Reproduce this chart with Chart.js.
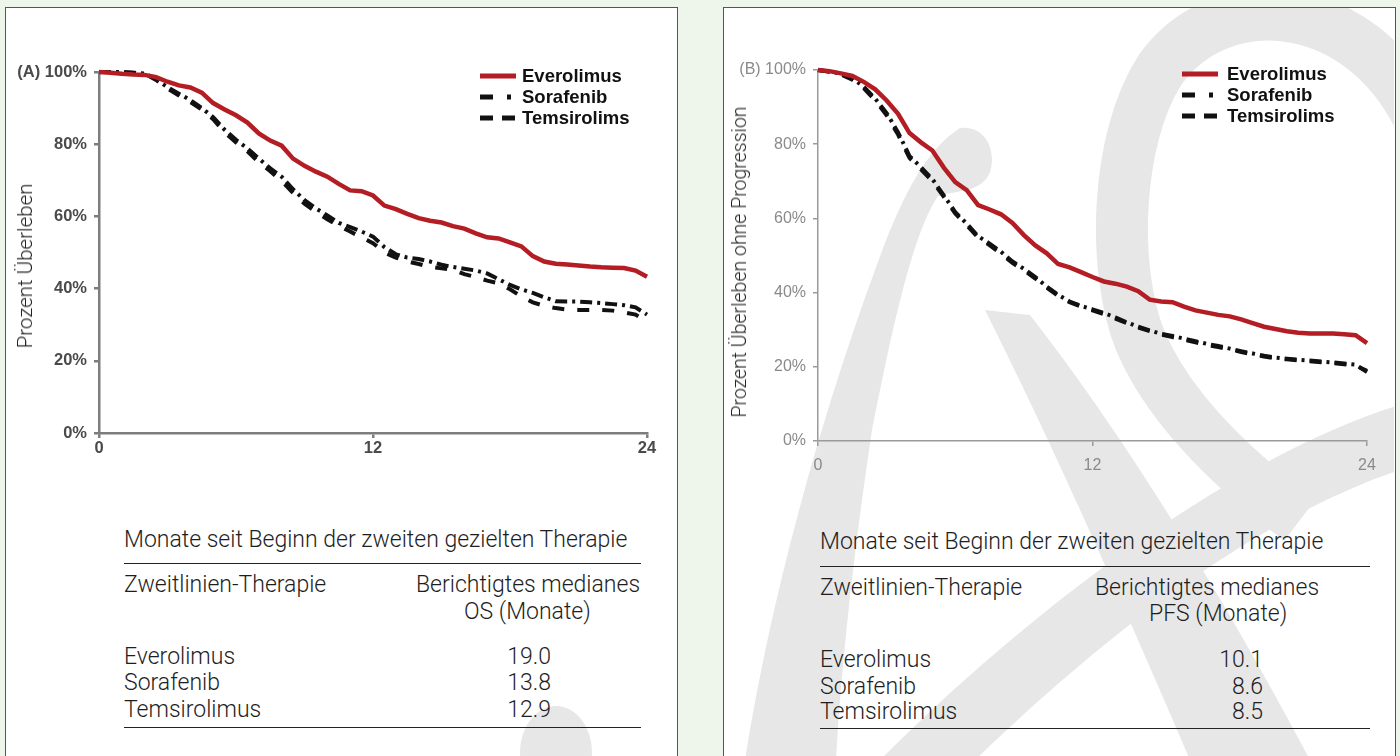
<!DOCTYPE html>
<html>
<head>
<meta charset="utf-8">
<script src="https://cdn.jsdelivr.net/npm/chart.js@4.4.1/dist/chart.umd.min.js"></script>
<style>
  body { margin: 0; width: 1400px; height: 756px; overflow: hidden; background: #eef5eb; position: relative; font-family: Roboto, "Liberation Sans", sans-serif; }
  .box { position: absolute; top: 7px; width: 673px; height: 800px; background: #fff; border: 1.5px solid #555; box-sizing: border-box; }
  #boxA { left: 5px; }
  #boxB { left: 723px; }
  #mark { position: absolute; left: 0; top: 0; }
  canvas { position: absolute; top: 0; }
  .t { position: absolute; white-space: nowrap; font-size: 23px; font-weight: 300; color: #1e1e1e; line-height: 28px; }
  .rule { position: absolute; height: 0; border-top: 1.5px solid #222; }
  .lg { position: absolute; font: bold 18.5px "Liberation Sans", Arial, sans-serif; color: #111; line-height: 20px; white-space: nowrap; }
  .ytitle { position: absolute; white-space: nowrap; font-weight: 300; color: #222; line-height: 24px; transform: translate(-50%, -50%) rotate(-90deg); }
</style>
</head>
<body>
<div class="box" id="boxA"></div>
<div class="box" id="boxB"></div>
<!-- light grey watermark behind the charts -->
<svg id="mark" width="1400" height="756">
  <defs>
    <clipPath id="boxes">
      <rect x="6" y="8" width="670" height="760"/>
      <rect x="724" y="8" width="670" height="760"/>
    </clipPath>
  </defs>
  <g clip-path="url(#boxes)" fill="#e7e7e7">
    <ellipse cx="556" cy="752" rx="36" ry="46"/>
    <path d="M745 760 C770 600 820 420 875 270 C900 200 925 150 960 128 C985 125 997 150 990 172 C982 192 960 190 938 196 C912 235 892 330 872 430 C857 530 842 650 836 760 Z"/>
    <path d="M985 310 L1030 315 C1120 430 1220 590 1310 760 L1190 760 C1130 620 1060 460 985 310 Z"/>
    <path d="M880 760 L975 760 C1100 640 1250 520 1400 470 L1400 405 C1250 450 1050 590 880 760 Z"/>
    <path d="M1420 120 C1360 -5 1220 -15 1160 70 C1115 140 1112 270 1140 340 C1165 400 1220 460 1300 520" fill="none" stroke="#e7e7e7" stroke-width="52"/>
  </g>
</svg>
<canvas id="chartA" width="700" height="480" style="left:0"></canvas>
<canvas id="chartB" width="700" height="480" style="left:700px"></canvas>
<div id="extras"></div>

<script>
// months since start of second targeted therapy
const months = [0, 0.5, 1, 1.5, 2, 2.5, 3, 3.5, 4, 4.5, 5, 5.5, 6, 6.5, 7, 7.5, 8, 8.5, 9, 9.5, 10, 10.5, 11, 11.5, 12,
                12.5, 13, 13.5, 14, 14.5, 15, 15.5, 16, 16.5, 17, 17.5, 18, 18.5, 19, 19.5, 20, 20.5, 21, 21.5, 22, 22.5, 23, 23.5, 24];

// (A) overall survival, percent
const osEverolimus = [100, 99.8, 99.5, 99.3, 99.2, 98.6, 97.3, 96.3, 95.7, 94.3, 91.4, 89.6, 88, 86, 83, 81, 79.6, 76, 74, 72.4, 71, 69, 67.2, 67, 65.8,
                      63, 62, 60.7, 59.5, 58.8, 58.3, 57.3, 56.6, 55.3, 54.2, 53.9, 52.8, 51.7, 49, 47.5, 46.9, 46.7, 46.4, 46.1, 45.9, 45.8, 45.7, 45, 43.3];
const osSorafenib = [100, 100, 100, 99.8, 99.6, 98, 95.8, 94, 92.2, 90, 87.5, 84, 81.2, 78.8, 76, 73.3, 71, 67.5, 64.5, 62.2, 60.3, 58.2, 57, 55.8, 54.4,
                     51.5, 49.5, 48.6, 48.2, 47.5, 46.6, 46, 45.5, 45, 44.2, 42.6, 41, 39.8, 38.8, 37.6, 36.5, 36.4, 36.4, 36.2, 36, 35.7, 35.4, 34.8, 32.8];
const osTemsirolimus = [100, 100, 100, 99.8, 99.5, 97.8, 95.4, 93.5, 91.7, 89.6, 86.9, 83.3, 80.5, 78, 75, 72.5, 69.8, 66.5, 63.5, 61.3, 59.2, 57.4, 55.8, 54.2, 52.6,
                        50, 48.6, 47.5, 46.8, 46, 45.6, 45.2, 44, 43.2, 42.2, 41.5, 39.8, 37.8, 36.2, 35.2, 34.6, 34.2, 34.1, 34.1, 34.1, 33.9, 33.4, 32.8, 30.8];

// (B) progression-free survival, percent
const pfsEverolimus = [100, 99.7, 99.1, 98.4, 96.8, 94.8, 91.8, 88.2, 83, 80.5, 78.3, 73.7, 69.8, 67.6, 63.6, 62.4, 61.1, 58.8, 55.5, 52.7, 50.6, 47.7, 46.8, 45.5, 44.2,
                       43, 42.4, 41.6, 40.4, 38.1, 37.6, 37.4, 36.2, 35.2, 34.6, 34, 33.6, 32.8, 31.8, 30.8, 30.2, 29.6, 29.2, 29, 29, 29, 28.8, 28.5, 26.4];
const pfsSorafenib = [100, 99.6, 99, 97.8, 95.5, 92.3, 88.4, 83.2, 76.8, 73.8, 70.6, 66.2, 61.7, 58.6, 55.2, 53.2, 51, 48.4, 46.4, 44.2, 41.6, 39.4, 37.6, 36.4, 35.5,
                      34.5, 33.3, 32, 30.8, 29.8, 28.9, 28.3, 27.6, 26.9, 26.2, 25.6, 24.9, 24.2, 23.6, 23, 22.5, 22.2, 21.9, 21.7, 21.4, 21.2, 20.9, 20.6, 18.6];
const pfsTemsirolimus = [100, 99.5, 98.8, 97.4, 95.1, 91.8, 87.8, 82.6, 76.3, 73.2, 70.1, 65.8, 61.3, 58.2, 54.8, 52.8, 50.5, 48, 46, 43.8, 41.3, 39.1, 37.4, 36.2, 35.2,
                         34.2, 33, 31.8, 30.6, 29.6, 28.7, 28, 27.3, 26.6, 25.9, 25.3, 24.7, 24, 23.3, 22.8, 22.3, 22, 21.7, 21.5, 21.2, 21, 20.7, 20.3, 18.9];

const legendNames = ['Everolimus', 'Sorafenib', 'Temsirolims'];
const yTicks = [0, 20, 40, 60, 80, 100];
const xTicks = [0, 12, 24];

const tableTitle = 'Monate seit Beginn der zweiten gezielten Therapie';
const therapies = ['Everolimus', 'Sorafenib', 'Temsirolimus'];
const medianOS = ['19.0', '13.8', '12.9'];
const medianPFS = ['10.1', '8.6', '8.5'];

const lineStyles = [
    { color: '#b31d23', width: 4.5, dash: [] },
    { color: '#111111', width: 4, dash: [12, 5, 3, 5] },
    { color: '#111111', width: 4, dash: [12, 13] }
];

function makeChart(id, series, cfg) {
    const datasets = series.map(function(vals, i) {
        return {
            label: legendNames[i],
            data: months.map(function(m, j) { return { x: m, y: vals[j] }; }),
            borderColor: lineStyles[i].color,
            borderWidth: lineStyles[i].width,
            borderDash: lineStyles[i].dash,
            pointRadius: 0,
            tension: 0,
            fill: false,
            clip: 8
        };
    });
    return new Chart(document.getElementById(id), {
        type: 'line',
        data: { datasets: datasets },
        options: {
            responsive: false,
            animation: false,
            layout: { padding: { left: 0, top: cfg.top, right: cfg.right, bottom: 0 } },
            plugins: { legend: { display: false }, tooltip: { enabled: false } },
            scales: {
                x: {
                    type: 'linear', min: 0, max: 24,
                    afterBuildTicks: function(s) { s.ticks = xTicks.map(function(v) { return { value: v }; }); },
                    afterFit: function(s) { s.height = cfg.xHeight; },
                    grid: { drawOnChartArea: false, drawTicks: true, tickLength: 5, color: cfg.axisColor, lineWidth: cfg.axisWidth },
                    border: { display: true, color: cfg.axisColor, width: cfg.axisWidth },
                    ticks: { padding: cfg.xPad, color: cfg.tickColor, font: { family: 'Liberation Sans', size: cfg.tickSize, weight: cfg.tickWeight }, maxRotation: 0 }
                },
                y: {
                    min: 0, max: 100,
                    afterBuildTicks: function(s) { s.ticks = yTicks.map(function(v) { return { value: v }; }); },
                    afterFit: function(s) { s.width = cfg.yWidth; },
                    grid: { drawOnChartArea: false, drawTicks: true, tickLength: 5, color: cfg.axisColor, lineWidth: cfg.axisWidth },
                    border: { display: true, color: cfg.axisColor, width: cfg.axisWidth },
                    ticks: {
                        padding: 7, color: cfg.tickColor,
                        font: { family: 'Liberation Sans', size: cfg.tickSize, weight: cfg.tickWeight },
                        callback: function(v) { return v === 100 ? cfg.panel + ' 100%' : v + '%'; }
                    }
                }
            }
        }
    });
}

makeChart('chartA', [osEverolimus, osSorafenib, osTemsirolimus], {
    panel: '(A)', top: 72, right: 53, xHeight: 47, yWidth: 99, xPad: 1,
    axisColor: '#7d7d7d', axisWidth: 2.5, tickColor: '#4a4a4a', tickWeight: 'bold', tickSize: 16.5
});
makeChart('chartB', [pfsEverolimus, pfsSorafenib, pfsTemsirolimus], {
    panel: '(B)', top: 70, right: 33, xHeight: 39, yWidth: 118, xPad: 10,
    axisColor: '#9a9a9a', axisWidth: 1.5, tickColor: '#8a8a8a', tickWeight: 'normal', tickSize: 16
});

// axis titles, legends and median tables (HTML)
const extras = document.getElementById('extras');
function addText(cls, text, left, cy, h, style) {
    const d = document.createElement('div');
    d.className = cls;
    d.textContent = text;
    d.style.left = left + 'px';
    d.style.top = (cy - h / 2) + 'px';
    if (style) Object.assign(d.style, style);
    extras.appendChild(d);
    return d;
}
function addYTitle(text, cx, cy, size) {
    const d = document.createElement('div');
    d.className = 'ytitle';
    d.textContent = text;
    d.style.left = cx + 'px';
    d.style.top = cy + 'px';
    d.style.fontSize = size + 'px';
    extras.appendChild(d);
}
addYTitle('Prozent Überleben', 25, 266, 20.5);
addYTitle('Prozent Überleben ohne Progression', 740, 262, 19.5);

function addLegend(x0, textX, ys) {
    legendNames.forEach(function(name, i) {
        const svg = document.createElementNS('http://www.w3.org/2000/svg', 'svg');
        svg.setAttribute('width', 40); svg.setAttribute('height', 10);
        svg.style.position = 'absolute';
        svg.style.left = x0 + 'px';
        svg.style.top = (ys[i] - 5) + 'px';
        const ln = document.createElementNS('http://www.w3.org/2000/svg', 'line');
        ln.setAttribute('x1', 0); ln.setAttribute('x2', 36);
        ln.setAttribute('y1', 5); ln.setAttribute('y2', 5);
        ln.setAttribute('stroke', lineStyles[i].color);
        ln.setAttribute('stroke-width', 5);
        if (i === 1) ln.setAttribute('stroke-dasharray', '13 14 4 10');
        if (i === 2) ln.setAttribute('stroke-dasharray', '13 9');
        svg.appendChild(ln);
        extras.appendChild(svg);
        addText('lg', name, textX, ys[i], 20);
    });
}
addLegend(480, 522, [76, 97, 118]);
addLegend(1182, 1227, [74, 95, 116]);

function addRule(left, width, y) {
    const d = document.createElement('div');
    d.className = 'rule';
    d.style.left = left + 'px';
    d.style.top = y + 'px';
    d.style.width = width + 'px';
    extras.appendChild(d);
}
function addTable(c) {
    addText('t', tableTitle, c.left, c.ys[0], 28);
    addRule(c.left, c.ruleW, c.ys[1]);
    addText('t', 'Zweitlinien-Therapie', c.left, c.ys[2], 28);
    addText('t', 'Berichtigtes medianes', c.headL, c.ys[2], 28);
    addText('t', c.unit, c.unitL, c.ys[3], 28);
    therapies.forEach(function(name, i) {
        addText('t', name, c.left, c.ys[4 + i], 28);
        addText('t', c.values[i], 0, c.ys[4 + i], 28, { left: 'auto', right: (1400 - c.valR) + 'px' });
    });
    addRule(c.left, c.ruleW, c.ys[7]);
}
addTable({ left: 124, ruleW: 517, headL: 416, unit: 'OS (Monate)', unitL: 464, valR: 551,
           values: medianOS, ys: [540, 563, 585, 612, 657, 683, 710, 727] });
addTable({ left: 820, ruleW: 550, headL: 1095, unit: 'PFS (Monate)', unitL: 1149, valR: 1263,
           values: medianPFS, ys: [542, 566, 588, 614, 660, 687, 712, 728] });
</script>
</body>
</html>
